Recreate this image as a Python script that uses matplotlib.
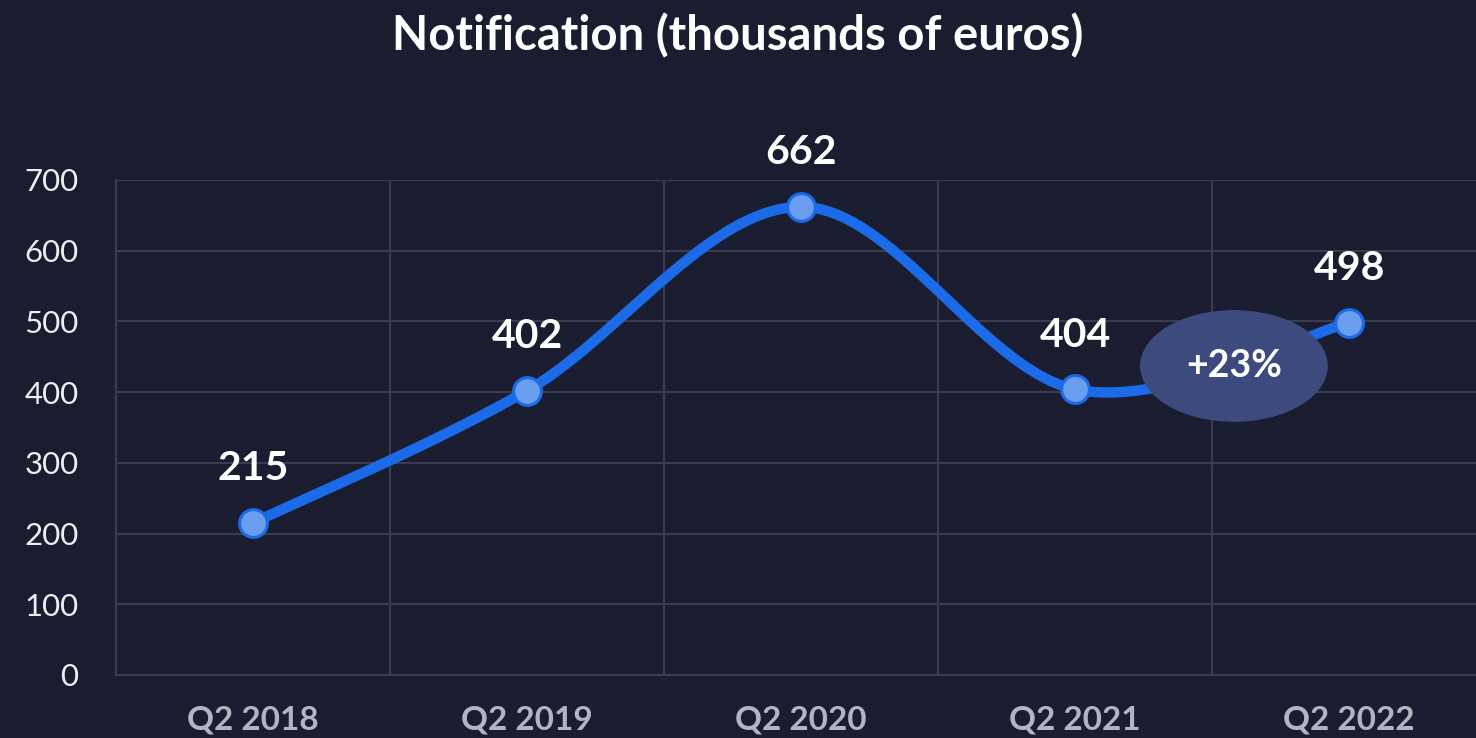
import numpy as np
import matplotlib.pyplot as plt
from matplotlib.patches import Ellipse

# Datos
categories = ['Q2 2018', 'Q2 2019', 'Q2 2020', 'Q2 2021', 'Q2 2022']
values = [215, 402, 662, 404, 498]
y_ticks = [0, 100, 200, 300, 400, 500, 600, 700]

bg = '#1a1c2f'
grid_c = '#3a3b4e'
line_c = '#1b6be9'
dot_c = '#6c9ef0'

plt.rcParams['font.family'] = ['Lato', 'DejaVu Sans']


def catmull_rom(xs, ys, n=60):
    # curva suavizada que pasa por todos los puntos
    px = np.concatenate([[xs[0]], xs, [xs[-1]]])
    py = np.concatenate([[ys[0]], ys, [ys[-1]]])
    out_x, out_y = [], []
    for i in range(1, len(px) - 2):
        t = np.linspace(0, 1, n)
        mx0 = (px[i + 1] - px[i - 1]) / 2
        mx1 = (px[i + 2] - px[i]) / 2
        my0 = (py[i + 1] - py[i - 1]) / 2
        my1 = (py[i + 2] - py[i]) / 2
        h00 = 2 * t**3 - 3 * t**2 + 1
        h10 = t**3 - 2 * t**2 + t
        h01 = -2 * t**3 + 3 * t**2
        h11 = t**3 - t**2
        out_x.append(h00 * px[i] + h10 * mx0 + h01 * px[i + 1] + h11 * mx1)
        out_y.append(h00 * py[i] + h10 * my0 + h01 * py[i + 1] + h11 * my1)
    return np.concatenate(out_x), np.concatenate(out_y)


x = np.arange(len(categories), dtype=float)
y = np.array(values, dtype=float)
xs, ys = catmull_rom(x, y)

fig = plt.figure(figsize=(14.76, 7.38), dpi=100, facecolor=bg)
ax = fig.add_axes([116 / 1476, 63 / 738, 1370 / 1476, 495 / 738])
ax.set_facecolor(bg)

ax.set_xlim(-0.5, len(categories) - 0.5)
ax.set_ylim(0, 700)

# Rejilla
ax.set_yticks(y_ticks)
ax.set_xticks(x)
ax.set_xticks(np.arange(len(categories) + 1) - 0.5, minor=True)
ax.grid(True, which='minor', axis='x', color=grid_c, lw=1.5)
ax.grid(True, which='major', axis='y', color=grid_c, lw=1.5)
ax.set_axisbelow(True)
for s in ['top', 'right']:
    ax.spines[s].set_visible(False)
for s in ['left', 'bottom']:
    ax.spines[s].set_color(grid_c)
    ax.spines[s].set_linewidth(1.5)

ax.tick_params(axis='both', which='both', length=0)
ax.tick_params(axis='y', labelsize=22.5, labelcolor='#eeeef2', pad=27)
ax.tick_params(axis='x', labelsize=24, labelcolor='#b3b5be', pad=22)
ax.set_xticklabels(categories, fontweight='bold')

# Línea y puntos
ax.plot(xs, ys, color=line_c, lw=7.5, solid_capstyle='round', zorder=3)
ax.plot(x, y, 'o', ms=20, mfc=dot_c, mec=line_c, mew=2.2, zorder=5)

for xi, yi in zip(x, values):
    ax.annotate(f'{yi}', (xi, yi), xytext=(0, 39), textcoords='offset points',
                ha='center', va='center', fontsize=29.5, fontweight='bold',
                color='white', zorder=6)

# Variación del último año
growth = (values[-1] - values[-2]) / values[-2] * 100
ex = (x[-2] + x[-1]) / 2 + 0.08
ey = (values[-2] + values[-1]) / 2 - 14
ax.add_patch(Ellipse((ex, ey), 0.68, 156, color='#3d4a7d', zorder=4))
ax.text(ex, ey, f'+{growth:.0f}%', ha='center', va='center', fontsize=27,
        fontweight='bold', color='white', zorder=6)

fig.text(0.5, 1 - 36 / 738, 'Notification (thousands of euros)', ha='center',
         va='center', fontsize=34, fontweight='bold', color='white')

fig.savefig('out.png', dpi=100, facecolor=bg)
